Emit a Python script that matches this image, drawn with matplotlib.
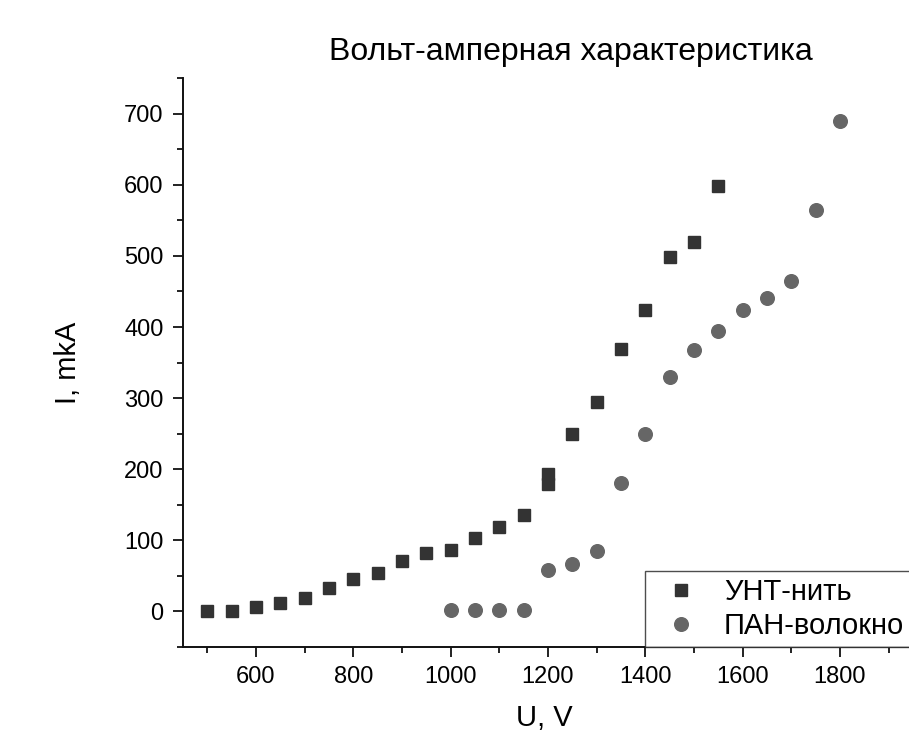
import matplotlib.pyplot as plt
import matplotlib.ticker as ticker

# ── Data ──────────────────────────────────────────────────────────────────────
u_cnt = [500, 550, 600, 650, 700, 750, 800, 850, 900, 950, 1000, 1050, 1100,
         1150, 1200, 1200, 1250, 1300, 1350, 1400, 1450, 1500, 1550]
i_cnt = [0, 1, 6, 12, 19, 33, 45, 54, 71, 82, 87, 103, 119,
         136, 179, 193, 249, 294, 369, 424, 499, 519, 598]

u_pan = [1000, 1050, 1100, 1150, 1200, 1250, 1300, 1350, 1400, 1450, 1500,
         1550, 1600, 1650, 1700, 1750, 1800]
i_pan = [2, 2, 2, 2, 58, 67, 85, 180, 250, 330, 368,
         395, 424, 441, 465, 565, 690]

labels = ["УНТ-нить", "ПАН-волокно"]

plt.rcParams["font.family"] = ["Liberation Sans", "DejaVu Sans"]

# ── Figure ────────────────────────────────────────────────────────────────────
fig = plt.figure(figsize=(9.09, 7.34), dpi=100)
ax = fig.add_axes([0.2013, 0.1185, 0.803, 0.775])

ax.plot(u_cnt, i_cnt, ls="none", marker="s", ms=8.6, color="#333333",
        mec="#333333", label=labels[0], zorder=3)
ax.plot(u_pan, i_pan, ls="none", marker="o", ms=9.8, color="#666666",
        mec="#666666", label=labels[1], zorder=3)

ax.set_xlim(450, 1950)
ax.set_ylim(-50, 750)
ax.xaxis.set_major_locator(ticker.MultipleLocator(200))
ax.xaxis.set_minor_locator(ticker.MultipleLocator(100))
ax.yaxis.set_major_locator(ticker.MultipleLocator(100))
ax.yaxis.set_minor_locator(ticker.MultipleLocator(50))
ax.tick_params(which="major", direction="out", length=7, width=1.3,
               labelsize=17, color="#111111", pad=7)
ax.tick_params(which="minor", direction="out", length=4, width=1.3,
               color="#111111")
ax.spines[["top", "right"]].set_visible(False)
ax.spines[["left", "bottom"]].set_linewidth(1.4)
ax.spines[["left", "bottom"]].set_color("#111111")

ax.set_xlabel("U, V", fontsize=21, va="center")
ax.set_ylabel("I, mkA", fontsize=21, va="center")
ax.xaxis.set_label_coords(0.495, -0.125)
ax.yaxis.set_label_coords(-0.157, 0.5)
ax.set_title("Вольт-амперная характеристика", fontsize=23,
             x=0.531, y=1.031, va="center")

leg = ax.legend(loc="lower left", bbox_to_anchor=(0.633, 0.0), fontsize=21,
                frameon=True, fancybox=False, borderpad=0.25, handletextpad=0.45,
                labelspacing=0.2, handlelength=2.0, borderaxespad=0)
leg.get_frame().set_edgecolor("#222222")
leg.get_frame().set_linewidth(1.0)

plt.savefig("out.png", dpi=100)
